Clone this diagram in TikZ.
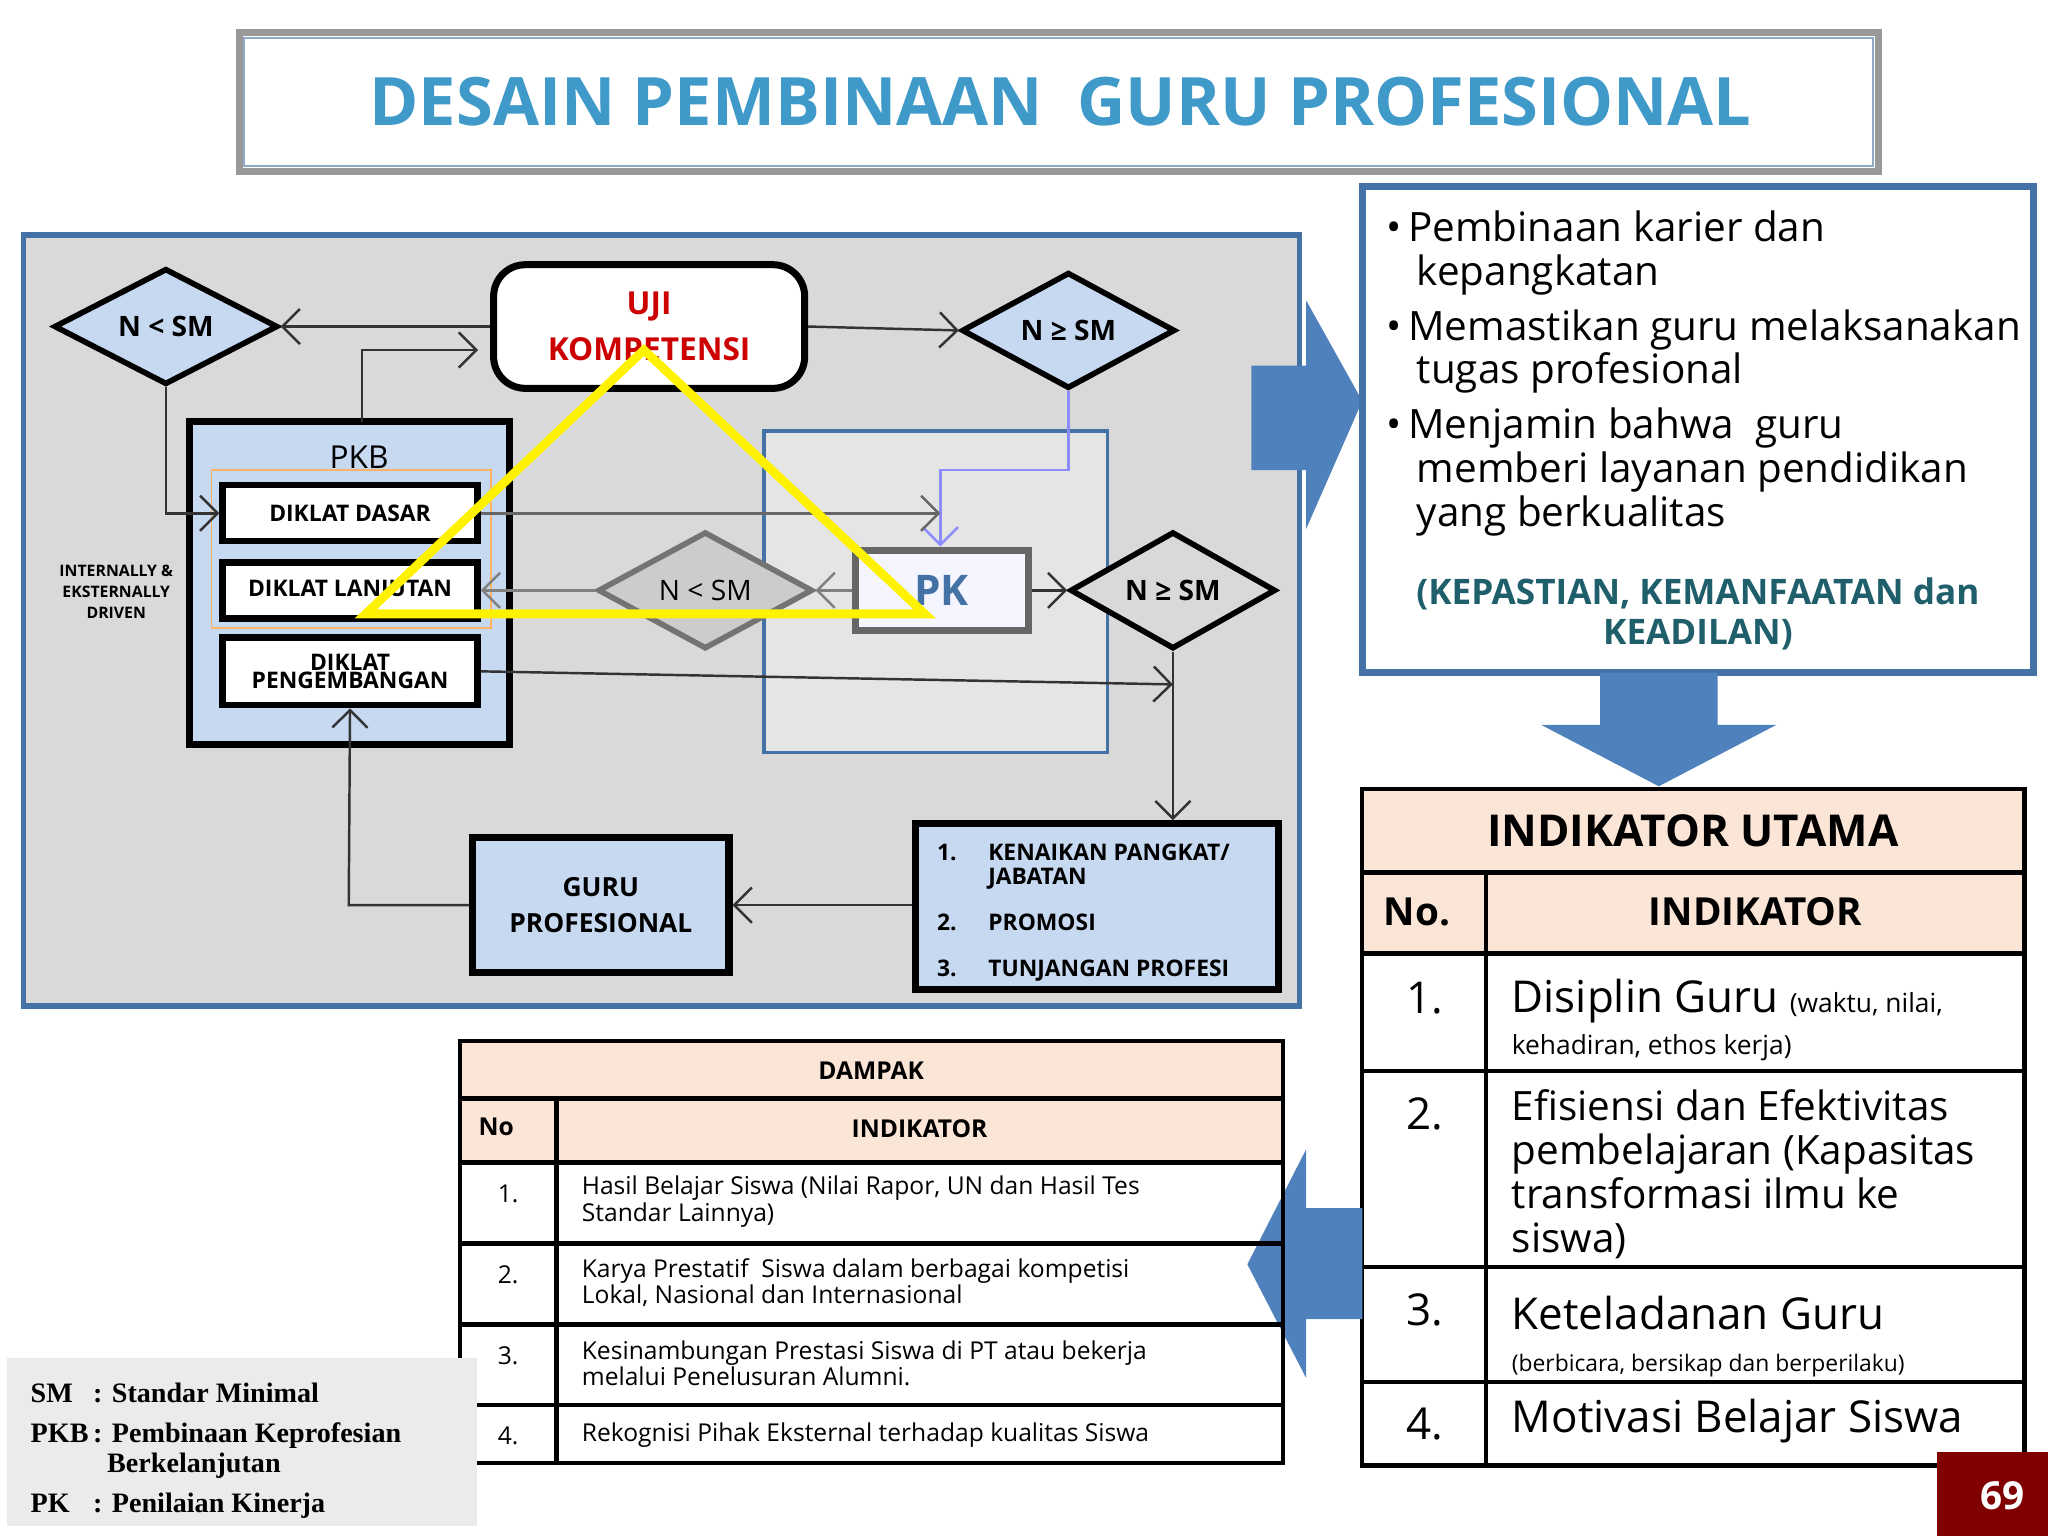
\documentclass[tikz,border=0pt]{standalone}
\usepackage{fontspec}
\setmainfont{Open Sans}
\newfontfamily\serifb{Liberation Serif}
\usetikzlibrary{shapes.geometric,arrows.meta,calc}
\definecolor{lblue}{HTML}{C6D9F1}
\definecolor{pblue}{HTML}{4F81BD}
\definecolor{bord}{HTML}{4472A4}
\definecolor{peach}{HTML}{FBE5D6}
\definecolor{teal1}{HTML}{1F5F6B}
\def\U{*0.3703pt}
\begin{document}
\begin{tikzpicture}[x=0.013061cm,y=-0.013061cm,
 dia/.style={diamond,draw=black,line width=1.6pt,fill=lblue,inner sep=0,minimum width=#1\U,minimum height=88\U,font=\bfseries\fontsize{8}{9}\selectfont},
 dbox/.style={draw=black,line width=1.8pt,fill=white,font=\bfseries\fontsize{6.5}{7}\selectfont,align=center,inner sep=1pt},
 arr/.style={-{Straight Barb[length=5pt]},line width=0.7pt,draw=black!80},
 tb/.style={font=\fontsize{7}{7.5}\selectfont,align=left,anchor=west},
 big/.style={font=\fontsize{12.5}{14}\selectfont,align=left,anchor=north west}]
\useasboundingbox (0,0) rectangle (1568,1176);
\fill[white] (0,0) rectangle (1568,1176);
% title
\draw[draw=black!40,line width=2pt,fill=white] (183,25) rectangle (1438,131);
\draw[draw=bord!60,line width=0.6pt] (187,29) rectangle (1434,127);
\node[text=pblue!80!cyan,font=\fontsize{19}{22}\selectfont\bfseries] (title) at (812,78) {DESAIN PEMBINAAN\ \ GURU PROFESIONAL};
% panel
\draw[draw=bord,line width=1.6pt,fill=black!15] (18,180) rectangle (995,770);
\draw[draw=bord,line width=1pt,fill=black!10] (585,330) rectangle (848,576);
\node[dia=172] (d1) at (127,250) {N < SM};
\node[draw=black,line width=2pt,rounded corners=9pt,fill=white,minimum width=239\U,minimum height=95\U,align=center,font=\bfseries\fontsize{9}{13}\selectfont,text=red!80!black] (uji) at (497,250) {UJI\\KOMPETENSI};
\node[dia=164] (d2) at (818,253) {N ≥ SM};
\draw[black,line width=2pt,fill=lblue] (145,323) rectangle (390,570);
\node (pkb) at (275,350) {\fontsize{9}{10}\selectfont PKB};
\coordinate (pkbtop) at (277,323);
\draw[orange!60,line width=0.5pt] (162,360) rectangle (376,481);
\node[dbox,minimum width=196\U,minimum height=43\U] (dd) at (268,393) {DIKLAT DASAR};
\node[dbox,minimum width=196\U,minimum height=43\U] (dl) at (268,452) {DIKLAT LANJUTAN};
\node[dbox,minimum width=196\U,minimum height=52\U] (dp) at (268,514) {DIKLAT\\[-2pt]PENGEMBANGAN};
\node[font=\bfseries\fontsize{4.5}{6}\selectfont,align=center] (idr) at (89,453) {INTERNALLY \&\\EKSTERNALLY\\DRIVEN};
\node[dia=165,fill=black!20,draw=black!55,minimum height=90\U,font=\fontsize{8}{9}\selectfont] (d3) at (540,452) {N < SM};
\node[draw=black!60,line width=2pt,fill=blue!4,minimum width=133\U,minimum height=62\U,font=\bfseries\fontsize{12}{13}\selectfont,text=bord] (pk) at (721,452) {PK};
\node[dia=158,fill=black!15,minimum height=90\U] (d4) at (898,452) {N ≥ SM};
\node[draw=black,line width=2pt,fill=lblue,minimum width=197\U,minimum height=104\U,align=center,font=\bfseries\fontsize{7.5}{10}\selectfont] (guru) at (460,693) {GURU\\PROFESIONAL};
\node[draw=black,line width=2pt,fill=lblue,minimum width=279\U,minimum height=127\U,anchor=north west] (lst) at (698,628) {};
\node[anchor=north west,align=left,font=\bfseries\fontsize{6.5}{7}\selectfont] (lt) at (708,636) {\begin{tabular}{@{}l@{\hspace{9pt}}l@{}}1.&KENAIKAN PANGKAT/\\&JABATAN\\[6pt]2.&PROMOSI\\[6pt]3.&TUNJANGAN PROFESI\end{tabular}};
% arrows
\draw[arr] (uji.west|-d1) -- (d1.east);
\draw[arr] (uji.east) -- (d2.west);
\draw[arr,draw=blue!45] (d2.south) -- (818,360) -- (720,360) -- (pk.north-|720,0);
\draw[arr] (d1.south) -- (127,393) -- (dd.west);
\draw[arr] (pkbtop) -- (277,268) -- (366,268);
\draw[arr,draw=black!60] (dd.east) -- (720,393);
\draw[arr,draw=black!50] (pk.west) -- (d3.east);
\draw[arr,draw=black!50] (d3.west) -- (dl.east);
\draw[arr] (pk.east) -- (d4.west);
\draw[arr] (dp.east) -- (898,524);
\draw[arr] (d4.south) -- (lst.north-|d4.south);
\draw[arr] (lst.west|-guru) -- (guru.east);
\draw[arr] (guru.west) -- (267,693) -- (dp.south);
\draw[yellow,line width=2.5pt] (493,268) -- (280,470) -- (708,470) -- cycle;
% right arrow
\fill[pblue] (958,280) -- (1000,280) -- (1000,230) -- (1043,307) -- (1000,405) -- (1000,360) -- (958,360) -- cycle;
\draw[bord,line width=2pt,fill=white] (1043,143) rectangle (1557,515);
\node[anchor=north west,align=left,font=\fontsize{11.5}{12.5}\selectfont] (bul) at (1052,152) {%
\textbullet\,Pembinaan karier dan\\\hspace*{0.75em}kepangkatan\\[3pt]
\textbullet\,Memastikan guru melaksanakan\\\hspace*{0.75em}tugas profesional\\[3pt]
\textbullet\,Menjamin bahwa\ \ guru\\\hspace*{0.75em}memberi layanan pendidikan\\\hspace*{0.75em}yang berkualitas};
\node[font=\bfseries\fontsize{10}{11.5}\selectfont,text=teal1,align=center] (kep) at (1300,470) {(KEPASTIAN, KEMANFAATAN dan\\KEADILAN)};
% down arrow
\fill[pblue] (1225,515) -- (1315,515) -- (1315,555) -- (1360,555) -- (1270,602) -- (1180,555) -- (1225,555) -- cycle;
% indikator table
\fill[peach] (1043,604) rectangle (1550,730);
\draw[line width=1.2pt] (1043,604) rectangle (1550,1122);
\foreach \y in {668,730,820,970,1058} \draw[line width=1.2pt] (1043,\y) -- (1550,\y);
\draw[line width=1.2pt] (1138,668) -- (1138,1122);
\node[font=\bfseries\fontsize{12.5}{14}\selectfont] (iu) at (1296,636) {INDIKATOR UTAMA};
\node[font=\bfseries\fontsize{11}{12}\selectfont] (no) at (1085,698) {No.};
\node[font=\bfseries\fontsize{11}{12}\selectfont] (ind) at (1344,698) {INDIKATOR};
\foreach \n/\y in {1./764,2./853,3./1003,4./1090} \node[font=\fontsize{12.5}{14}\selectfont] at (1091,\y) {\n};
\node[big] (i1) at (1148,740) {Disiplin Guru {\fontsize{7.5}{9}\selectfont(waktu, nilai,}\\[-2pt]{\fontsize{7.5}{9}\selectfont kehadiran, ethos kerja)}};
\node[big,font=\fontsize{11.5}{12.5}\selectfont] (i2) at (1148,825) {Efisiensi dan Efektivitas\\pembelajaran (Kapasitas\\transformasi ilmu ke\\siswa)};
\node[big] (i3) at (1148,983) {Keteladanan Guru\\[-2pt]{\fontsize{6.5}{8}\selectfont(berbicara, bersikap dan berperilaku)}};
\node[big] (i4) at (1148,1062) {Motivasi Belajar Siswa};
% left arrow
\fill[pblue] (1043,925) -- (1000,925) -- (1000,880) -- (955,968) -- (1000,1055) -- (1000,1010) -- (1043,1010) -- cycle;
% dampak table
\fill[peach] (352,797) rectangle (982,890);
\draw[line width=1.2pt] (352,797) rectangle (982,1120);
\foreach \y in {841,890,952,1014,1076} \draw[line width=1.2pt] (352,\y) -- (982,\y);
\draw[line width=1.2pt] (426,841) -- (426,1120);
\node[font=\bfseries\fontsize{7}{8}\selectfont] (dmp) at (667,820) {DAMPAK};
\node[font=\bfseries\fontsize{7}{8}\selectfont] (dno) at (380,863) {No};
\node[font=\bfseries\fontsize{7}{8}\selectfont] (dind) at (704,864) {INDIKATOR};
\foreach \n/\y in {1./914,2./976,3./1038,4./1099} \node[font=\fontsize{7}{8}\selectfont] at (389,\y) {\n};
\node[tb] (a1) at (436,920) {Hasil Belajar Siswa (Nilai Rapor, UN dan Hasil Tes\\Standar Lainnya)};
\node[tb] (a2) at (436,982) {Karya Prestatif\ \ Siswa dalam berbagai kompetisi\\Lokal, Nasional dan Internasional};
\node[tb] (a3) at (436,1044) {Kesinambungan Prestasi Siswa di PT atau bekerja\\melalui Penelusuran Alumni.};
\node[tb] (a4) at (436,1099) {Rekognisi Pihak Eksternal terhadap kualitas Siswa};
% legend
\fill[blue!10!black!8] (5,1040) rectangle (365,1168);
\node[anchor=north west,font=\serifb\bfseries\fontsize{8}{8.5}\selectfont,align=left] (leg) at (14,1048) {\begin{tabular}{@{}l@{\,}l@{}}SM&: Standar Minimal\\[3pt]PKB&: Pembinaan Keprofesian\\&\ \ Berkelanjutan\\[3pt]PK&: Penilaian Kinerja\end{tabular}};
\fill[red!50!black] (1483,1112) rectangle (1568,1176);
\node[white,font=\bfseries\fontsize{11}{12}\selectfont] (pg) at (1533,1145) {69};
\end{tikzpicture}
\end{document}
